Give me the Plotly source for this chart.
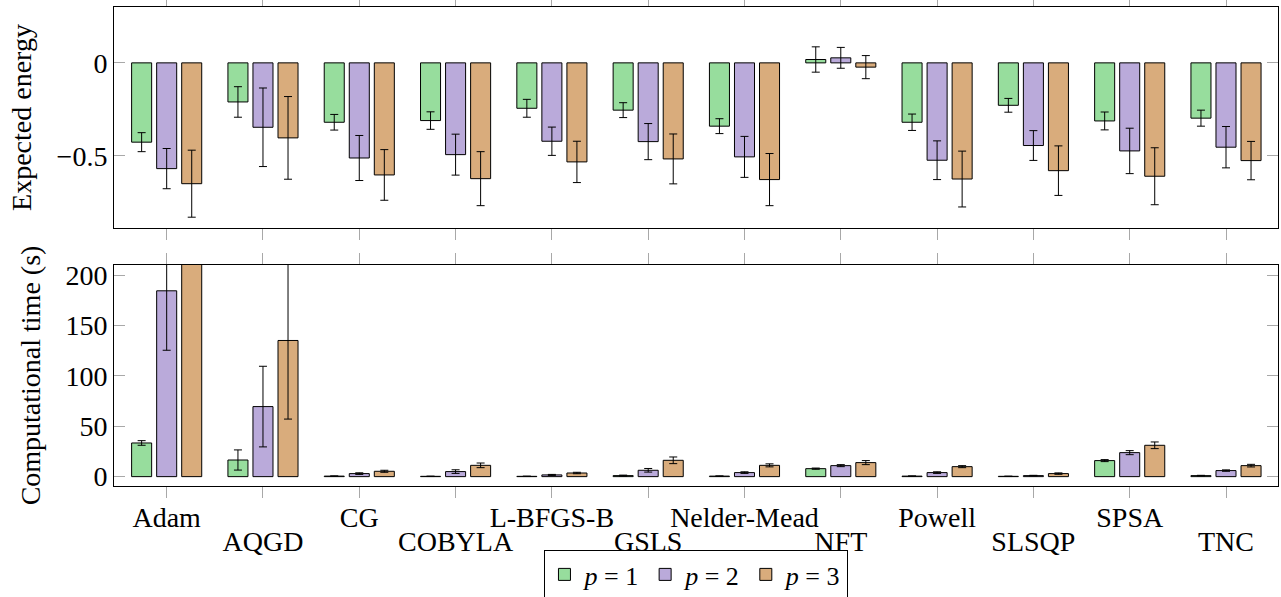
import plotly.graph_objects as go

categories = ["Adam", "AQGD", "CG", "COBYLA", "L-BFGS-B", "GSLS",
              "Nelder-Mead", "NFT", "Powell", "SLSQP", "SPSA", "TNC"]
series_names = ["<i>p</i> = 1", "<i>p</i> = 2", "<i>p</i> = 3"]

energy_p1 = [-0.426, -0.210, -0.319, -0.310, -0.244, -0.254, -0.340, 0.018, -0.319, -0.228, -0.312, -0.297]
energy_p2 = [-0.568, -0.346, -0.511, -0.493, -0.421, -0.423, -0.505, 0.027, -0.523, -0.444, -0.473, -0.453]
energy_p3 = [-0.649, -0.403, -0.602, -0.622, -0.532, -0.516, -0.627, -0.023, -0.624, -0.579, -0.609, -0.525]
energy_err_p1 = [0.051, 0.082, 0.042, 0.047, 0.048, 0.040, 0.040, 0.068, 0.044, 0.037, 0.048, 0.043]
energy_err_p2 = [0.108, 0.211, 0.121, 0.110, 0.076, 0.097, 0.110, 0.056, 0.104, 0.080, 0.122, 0.111]
energy_err_p3 = [0.180, 0.222, 0.136, 0.145, 0.111, 0.134, 0.140, 0.062, 0.150, 0.133, 0.153, 0.103]

time_p1 = [33.4, 16.5, 0.5, 0.3, 0.3, 1.0, 0.5, 7.9, 0.5, 0.3, 15.9, 1.0]
time_p2 = [184.4, 69.5, 3.0, 5.0, 1.7, 6.3, 4.0, 10.9, 4.0, 1.0, 23.8, 6.0]
time_p3 = [330.0, 135.1, 5.3, 11.2, 3.6, 16.2, 11.2, 13.9, 9.9, 3.0, 31.1, 10.9]
time_err_p1 = [2.3, 10.0, 0.2, 0.2, 0.2, 0.5, 0.2, 0.6, 0.2, 0.2, 1.0, 0.3]
time_err_p2 = [59.0, 40.0, 0.8, 1.8, 0.5, 1.8, 0.8, 1.0, 0.8, 0.3, 2.0, 0.7]
time_err_p3 = [100.0, 78.0, 1.0, 2.3, 0.7, 3.3, 1.5, 2.0, 1.0, 0.7, 3.3, 1.3]

colors = ["rgb(151,221,157)", "rgb(186,170,218)", "rgb(217,172,124)"]
FONT = "Liberation Serif"
FS = 28

x_idx = list(range(len(categories)))
energy = [energy_p1, energy_p2, energy_p3]
energy_err = [energy_err_p1, energy_err_p2, energy_err_p3]
times = [time_p1, time_p2, time_p3]
time_err = [time_err_p1, time_err_p2, time_err_p3]

fig = go.Figure()
for k in range(3):
    fig.add_trace(go.Bar(
        x=x_idx, y=energy[k], name=series_names[k], xaxis="x", yaxis="y",
        marker=dict(color=colors[k], line=dict(color="black", width=1)),
        error_y=dict(type="data", array=energy_err[k], color="black", thickness=1, width=4),
        showlegend=True, legendgroup=str(k),
    ))
for k in range(3):
    fig.add_trace(go.Bar(
        x=x_idx, y=times[k], name=series_names[k], xaxis="x2", yaxis="y2",
        marker=dict(color=colors[k], line=dict(color="black", width=1)),
        error_y=dict(type="data", array=time_err[k], color="black", thickness=1, width=4),
        showlegend=False, legendgroup=str(k),
    ))
fig.add_trace(go.Scatter(x=[], y=[], xaxis="x3", yaxis="y2", showlegend=False))

W, H = 1281, 597
ml, mr, mt, mb = 114, 3, 7, 111
ph = H - mt - mb
top_dom = [(486 - 228) / ph, 1.0]
bot_dom = [0.0, (486 - 265) / ph]
xr = [-0.547, 11.54]

even_text = [c if i % 2 == 0 else "" for i, c in enumerate(categories)]
odd_vals = [i for i in x_idx if i % 2 == 1]
odd_text = [categories[i] for i in odd_vals]

tickgray = "#a8a8a8"
xcommon = dict(range=xr, showline=True, linecolor="black", linewidth=1, mirror="ticks",
               ticks="outside", ticklen=11, tickcolor=tickgray, tickwidth=1,
               showgrid=False, zeroline=False)
ycommon = dict(showline=True, linecolor="black", linewidth=1, mirror="ticks",
               ticks="inside", ticklen=11, tickcolor=tickgray, tickwidth=1,
               showgrid=False, zeroline=False,
               tickfont=dict(family=FONT, size=FS, color="black"))

fig.update_layout(
    width=W, height=H,
    margin=dict(l=ml, r=mr, t=mt, b=mb, autoexpand=False),
    paper_bgcolor="white", plot_bgcolor="white",
    barmode="group", bargap=0.22, bargroupgap=0.2,
    font=dict(family=FONT, size=FS, color="black"),
    xaxis=dict(**xcommon, anchor="y", tickvals=x_idx, showticklabels=False),
    yaxis=dict(**ycommon, domain=top_dom, range=[-0.887, 0.30], tickvals=[-0.5, 0],
               ticktext=["\u22120.5", "0"],
               title=dict(text="Expected energy", font=dict(family=FONT, size=FS), standoff=16)),
    xaxis2=dict(**xcommon, anchor="y2", tickvals=x_idx, ticktext=even_text,
                ticklabelstandoff=-5,
                tickfont=dict(family=FONT, size=FS, color="black")),
    yaxis2=dict(**ycommon, domain=bot_dom, range=[-9.3, 210], tickvals=[0, 50, 100, 150, 200],
                title=dict(text="Computational time (s)", font=dict(family=FONT, size=FS), standoff=16)),
    xaxis3=dict(range=xr, overlaying="x2", anchor="y2", side="bottom", tickvals=odd_vals,
                ticktext=odd_text, ticks="", showline=False, showgrid=False, zeroline=False,
                ticklabelstandoff=36, tickfont=dict(family=FONT, size=FS, color="black")),
    legend=dict(orientation="h", x=0.5004, xanchor="center", y=-0.1336, yanchor="top",
                bordercolor="black", borderwidth=1, bgcolor="white",
                font=dict(family=FONT, size=26, color="black"),
                itemwidth=30, tracegroupgap=0),
)

fig.write_html("out.html")
